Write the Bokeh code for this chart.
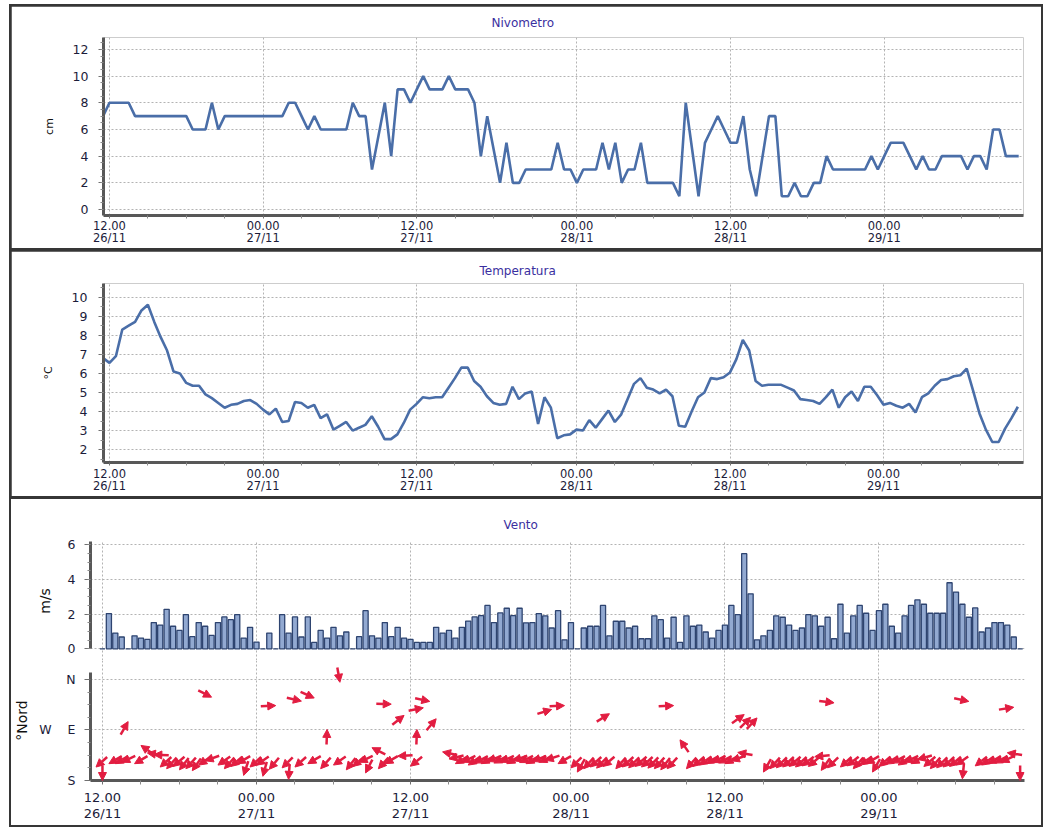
import math
from bokeh.plotting import figure
from bokeh.models import (Range1d, FixedTicker, SingleIntervalTicker,
                          ColumnDataSource, Arrow, NormalHead)
from bokeh.layouts import column
from bokeh.embed import file_html
from bokeh.resources import INLINE

nan = float("nan")

# ---------------- data (half-hourly samples, index 0 = 12.00 26/11) ----------------
sample_idx = list(range(-1, 144))
tick_idx = [0, 24, 48, 73, 97, 121]
tick_labels = ["12.00\n26/11", "00.00\n27/11", "12.00\n27/11",
               "00.00\n28/11", "12.00\n28/11", "00.00\n29/11"]

snow_cm = [
    7,
    8, 8, 8, 8, 7, 7, 7, 7, 7, 7, 7, 7,
    7, 6, 6, 6, 8, 6, 7, 7, 7, 7, 7, 7,
    7, 7, 7, 7, 8, 8, 7, 6, 7, 6, 6, 6,
    6, 6, 8, 7, 7, 3, 5.5, 8, 4, 9, 9, 8,
    9, 10, 9, 9, 9, 10, 9, 9, 9, 8, 4, 7,
    4.5, 2, 5, 2, 2, 3, 3, 3, 3, 3, 5, 3,
    3, 2, 3, 3, 3, 5, 3, 5, 2, 3, 3, 5,
    2, 2, 2, 2, 2, 1, 8, 4.5, 1, 5, 6, 7,
    6, 5, 5, 7, 3, 1, 4, 7, 7, 1, 1, 2,
    1, 1, 2, 2, 4, 3, 3, 3, 3, 3, 3, 4,
    3, 4, 5, 5, 5, 4, 3, 4, 3, 3, 4, 4,
    4, 4, 3, 4, 4, 3, 6, 6, 4, 4, 4, nan,
]

temp_c = [
    6.8,
    6.55, 6.9, 8.3, 8.5, 8.7, 9.3, 9.6, 8.7, 7.9, 7.2, 6.1, 6.0,
    5.5, 5.35, 5.35, 4.9, 4.7, 4.45, 4.2, 4.35, 4.4, 4.55, 4.6, 4.4,
    4.1, 3.85, 4.15, 3.45, 3.5, 4.5, 4.45, 4.2, 4.35, 3.65, 3.85, 3.05,
    3.25, 3.45, 3.0, 3.15, 3.3, 3.75, 3.2, 2.55, 2.55, 2.8, 3.4, 4.1,
    4.4, 4.75, 4.7, 4.75, 4.75, 5.25, 5.75, 6.3, 6.3, 5.6, 5.3, 4.8,
    4.45, 4.35, 4.4, 5.3, 4.65, 4.95, 5.05, 3.35, 4.75, 4.2, 2.6, 2.75,
    2.8, 3.05, 3.0, 3.55, 3.15, 3.6, 4.05, 3.45, 3.85, 4.65, 5.45, 5.75,
    5.25, 5.15, 4.95, 5.15, 4.8, 3.25, 3.2, 4.0, 4.75, 5.0, 5.75, 5.7,
    5.8, 6.05, 6.75, 7.75, 7.2, 5.6, 5.35, 5.4, 5.4, 5.4, 5.25, 5.1,
    4.65, 4.6, 4.55, 4.4, 4.75, 5.15, 4.2, 4.75, 5.05, 4.55, 5.3, 5.3,
    4.85, 4.35, 4.45, 4.3, 4.2, 4.4, 3.95, 4.75, 4.95, 5.35, 5.65, 5.7,
    5.85, 5.9, 6.25, 5.1, 3.9, 3.05, 2.4, 2.4, 3.1, 3.65, 4.25, nan,
]

wind_ms = [
    nan,
    0, 2.03, 0.91, 0.68, 0, 0.75, 0.62, 0.54, 1.51, 1.37, 2.28, 1.3,
    1.06, 1.97, 0.7, 1.51, 1.3, 0.77, 1.51, 1.84, 1.68, 1.97, 0.62, 1.24,
    0.39, 0, 0.91, 0, 1.97, 0.91, 1.84, 0.68, 1.84, 0.37, 1.06, 0.62,
    1.24, 0.75, 0.97, 0, 0.7, 2.2, 0.75, 0.62, 1.51, 0.7, 1.24, 0.62,
    0.54, 0.37, 0.37, 0.37, 1.24, 0.91, 1.06, 0.62, 1.24, 1.6, 1.84, 1.91,
    2.5, 1.51, 2.07, 2.34, 1.91, 2.34, 1.5, 1.51, 2.03, 1.9, 1.2, 2.2,
    0.52, 1.51, 0, 1.2, 1.3, 1.3, 2.5, 0.75, 1.59, 1.59, 1.2, 1.3,
    0.58, 0.58, 1.9, 1.68, 0.62, 1.82, 0.37, 1.9, 1.3, 1.37, 0.97, 0.62,
    1.06, 1.37, 2.5, 1.97, 5.49, 3.17, 0.52, 0.75, 1.06, 1.9, 1.82, 1.37,
    1.06, 1.2, 1.97, 1.9, 1.3, 1.82, 0.58, 2.57, 0.91, 1.9, 2.5, 2.05,
    1.06, 2.2, 2.57, 1.3, 0.91, 1.9, 2.5, 2.82, 2.57, 2.05, 2.05, 2.05,
    3.81, 3.27, 2.57, 1.82, 2.36, 0.97, 1.2, 1.51, 1.51, 1.37, 0.68, 0,
]

wind_deg = [
    312,
    360, 300, 300, 295, 150, 300, 235, 262, 268, 312, 318, 310,
    322, 318, 325, 305, 290, 63, 305, 318, 310, 300, 342, 312,
    305, 345, 320, 93, 315, 356, 312, 77, 300, 66, 318, 178,
    305, 10, 322, 310, 295, 333, 243, 318, 300, 88, 273, 128,
    309, 178, 101, 78, 140, 258, 283, 300, 295, 305, 298, 300,
    292, 298, 295, 300, 290, 296, 300, 292, 295, 288, 107, 300,
    93, 315, 330, 318, 312, 316, 310, 122, 318, 312, 315, 310,
    312, 316, 318, 322, 318, 93, 215, 318, 310, 305, 300, 296,
    298, 300, 290, 260, 125, 135, 137, 330, 318, 315, 312, 310,
    312, 308, 310, 275, 324, 315, 83, 312, 308, 318, 305, 300,
    330, 310, 302, 298, 305, 295, 300, 285, 310, 318, 315, 312,
    310, 305, 354, 78, 308, 305, 300, 298, 295, 261, 99, 360,
]

dir_ticks = [0, 180, 360]
dir_labels = ["N", "W\u00a0\u00a0\u00a0\u00a0E", "S"]

assert len(snow_cm) == len(temp_c) == len(wind_ms) == len(wind_deg) == len(sample_idx)

minor_idx = sorted(m + k for m in tick_idx for k in (6, 12, 18))

# ---------------- styling ----------------
FONT = "DejaVu Sans"
LINE_BLUE = "#4a6ea8"
TITLE_COL = "#3a2fa0"
LABEL_COL = "#1c1c3a"
GRID_COL = "#b3b3b3"
AXIS_COL = "#585858"
RED = "#e21d41"
W = 1030


def base_fig(height, xr, yr, mbl, mbr, mbt, mbb):
    p = figure(width=W, height=height, x_range=xr, y_range=yr,
               output_backend="svg", toolbar_location=None, tools="",
               min_border_left=mbl, min_border_right=mbr,
               min_border_top=mbt, min_border_bottom=mbb)
    p.outline_line_color = None
    p.background_fill_color = "white"
    p.border_fill_color = "white"
    p.grid.grid_line_color = GRID_COL
    p.grid.grid_line_dash = "2 2"
    p.grid.grid_line_width = 1
    for ax in p.axis:
        ax.axis_line_color = AXIS_COL
        ax.axis_line_width = 3
        ax.major_tick_line_color = "#707070"
        ax.minor_tick_line_color = "#8a8a8a"
        ax.major_tick_in = 0
        ax.minor_tick_in = 0
        ax.major_label_text_font = FONT
        ax.major_label_text_color = LABEL_COL
        ax.axis_label_text_font = FONT
        ax.axis_label_text_font_style = "normal"
        ax.axis_label_text_color = "#111111"
    return p


def set_title(p, text, offset, standoff):
    p.title.text = text
    p.title.text_font = FONT
    p.title.text_font_size = "12px"
    p.title.text_font_style = "normal"
    p.title.text_color = TITLE_COL
    p.title.align = "left"
    p.title.offset = offset
    p.title.standoff = standoff


def set_time_axis(p, font_size, tick_out, standoff, line_height):
    ax = p.xaxis[0]
    ax.ticker = FixedTicker(ticks=tick_idx, minor_ticks=minor_idx)
    ax.major_label_overrides = {t: l for t, l in zip(tick_idx, tick_labels)}
    ax.major_label_text_font_size = font_size
    ax.major_label_text_line_height = line_height
    ax.major_tick_out = tick_out
    ax.minor_tick_out = tick_out
    ax.major_label_standoff = standoff


# ---------------- panel 1 : Nivometro ----------------
p1 = base_fig(242, Range1d(-0.932, 142.75), Range1d(-0.444, 12.889), 87, 18, 30, 32)
set_title(p1, "Nivometro", 388, 15)
set_time_axis(p1, "11.5px", 3, 0, 0.9)
p1.yaxis.ticker = SingleIntervalTicker(interval=2, num_minor_ticks=4)
p1.yaxis.major_label_text_font_size = "12.5px"
p1.yaxis.major_tick_out = 5
p1.yaxis.minor_tick_out = 3
p1.yaxis.major_label_standoff = 10
p1.yaxis.axis_label = "cm"
p1.yaxis.axis_label_text_font_size = "11px"
p1.yaxis.axis_label_standoff = 14
p1.line(sample_idx, snow_cm, line_color=LINE_BLUE, line_width=2.6)

# ---------------- panel 2 : Temperatura ----------------
p2 = base_fig(245, Range1d(-0.938, 142.88), Range1d(1.325, 10.715), 92, 18, 32, 33)
set_title(p2, "Temperatura", 376, 12)
set_time_axis(p2, "11.5px", 3, 1, 0.9)
p2.yaxis.ticker = SingleIntervalTicker(interval=1, num_minor_ticks=2)
p2.yaxis.major_label_text_font_size = "12.5px"
p2.yaxis.major_tick_out = 5
p2.yaxis.minor_tick_out = 3
p2.yaxis.major_label_standoff = 11
p2.yaxis.axis_label = "°C"
p2.yaxis.axis_label_text_font_size = "11px"
p2.yaxis.axis_label_standoff = 14
p2.line(sample_idx, temp_c, line_color=LINE_BLUE, line_width=2.6)

# ---------------- panel 3 : Vento (speed bars + direction arrows) ----------------
x3 = Range1d(-1.864, 143.68)
p3a = base_fig(161, x3, Range1d(-0.675, 6.19), 76, 17, 42, 0)
set_title(p3a, "Vento", 413, 20)
p3a.xaxis.ticker = FixedTicker(ticks=tick_idx, minor_ticks=minor_idx)
p3a.xaxis.visible = False
p3a.yaxis.ticker = SingleIntervalTicker(interval=2, num_minor_ticks=4)
p3a.yaxis.bounds = (0, 6.19)
p3a.yaxis.major_label_text_font_size = "12.5px"
p3a.yaxis.major_tick_out = 6
p3a.yaxis.minor_tick_out = 3
p3a.yaxis.major_label_standoff = 9
p3a.yaxis.axis_label = "m/s"
p3a.yaxis.axis_label_text_font_size = "14px"
p3a.yaxis.axis_label_standoff = 12
p3a.vbar(x=sample_idx, top=wind_ms, bottom=0, width=0.8,
         fill_color="#92a9d1", line_color="#2e4470", line_width=1.3)

p3b_h, p3b_mbb = 165, 45
y3b = Range1d(360, -67.7)
p3b = base_fig(p3b_h, x3, y3b, 76, 17, 0, p3b_mbb)
set_time_axis(p3b, "13px", 4, 5, 1.12)
p3b.yaxis.ticker = FixedTicker(ticks=dir_ticks, minor_ticks=[45, 90, 135, 225, 270, 315])
p3b.yaxis.major_label_overrides = {t: l for t, l in zip(dir_ticks, dir_labels)}
p3b.yaxis.bounds = (-25, 360)
p3b.yaxis.major_label_text_font_size = "12.5px"
p3b.yaxis.major_tick_out = 6
p3b.yaxis.minor_tick_out = 3
p3b.yaxis.major_label_standoff = 9
p3b.yaxis.axis_label = "°Nord"
p3b.yaxis.axis_label_text_font_size = "14px"
p3b.yaxis.axis_label_standoff = 6

# arrow geometry: tip at (sample, direction); fixed on-screen length
frame_w = W - 76 - 17
frame_h = p3b_h - p3b_mbb
sx = frame_w / (x3.end - x3.start)
sy = frame_h / (y3b.start - y3b.end)
L = 15.0
tail_x, tail_y = [], []
for i, d in zip(sample_idx, wind_deg):
    c = math.radians(180 - d)
    tail_x.append(i - L * math.sin(c) / sx)
    tail_y.append(d + L * math.cos(c) / sy)
arrow_src = ColumnDataSource(dict(x0=tail_x, y0=tail_y, x1=sample_idx, y1=wind_deg))
p3b.add_layout(Arrow(end=NormalHead(size=8, fill_color=RED, line_color=RED, line_width=1),
                     x_start="x0", y_start="y0", x_end="x1", y_end="y1",
                     source=arrow_src, line_color=RED, line_width=2.5))

panel3 = column(p3a, p3b, spacing=0, styles={"background-color": "white"})
layout = column(p1, p2, panel3, spacing=3,
                styles={"background-color": "#363636", "padding": "2px",
                        "box-sizing": "content-box",
                        "margin-left": "9px", "margin-top": "4px"})

open("out.html", "w").write(file_html(layout, INLINE, title="Nivometro"))
